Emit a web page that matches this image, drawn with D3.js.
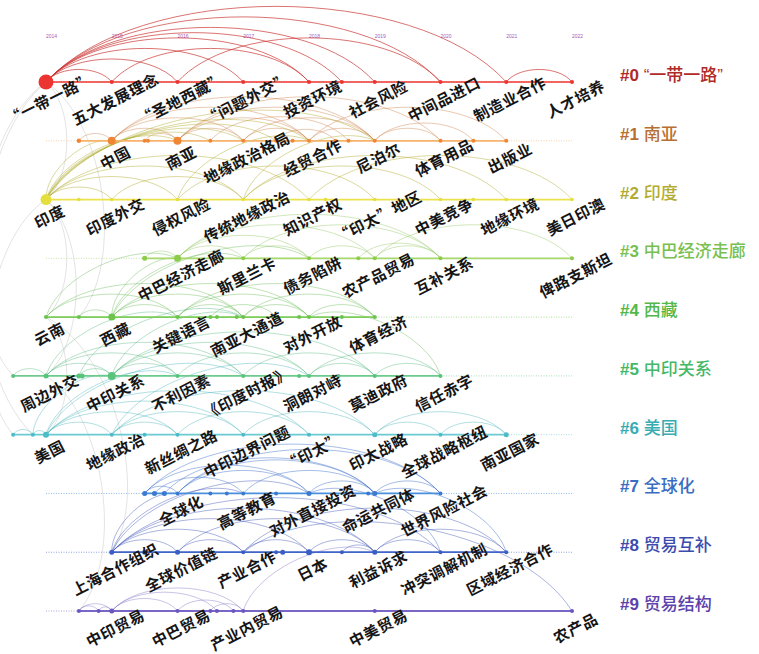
<!DOCTYPE html>
<html>
<head>
<meta charset="utf-8">
<script src="https://cdn.jsdelivr.net/npm/d3@7"></script>
<style>
  body { margin: 0; background: #fff; }
  svg { display: block; }
</style>
</head>
<body>
<svg id="chart" width="759" height="654"></svg>
<script>
// years on the timeline
const years = [2014, 2015, 2016, 2017, 2018, 2019, 2020, 2021, 2022];

// cluster labels
const clusterNames = ["“一带一路”", "南亚", "印度", "中巴经济走廊", "西藏", "中印关系", "美国", "全球化", "贸易互补", "贸易结构"];

// nodes per cluster: [year, radius]
const nodes0 = [[2014, 7.5], [2015, 2], [2016, 2], [2017, 2], [2018, 2], [2018.5, 2], [2019, 2], [2020, 2], [2021, 2], [2022, 2]];
const nodes1 = [[2014.5, 2.2], [2015, 4], [2015.5, 2], [2015.55, 2], [2016, 4], [2016.5, 2], [2017, 2], [2017.5, 2], [2017.75, 2], [2018, 2], [2018.4, 2], [2018.6, 2], [2019, 2], [2020, 2], [2020.5, 2], [2021, 2]];
const nodes2 = [[2014, 5.5], [2014.5, 1.8], [2015, 1.8], [2016, 1.8], [2017, 1.8], [2018, 1.8], [2018.25, 1.8], [2019, 1.8], [2020, 1.8], [2020.5, 1.8], [2021, 1.8], [2022, 1.8]];
const nodes3 = [[2015.5, 2.5], [2016, 3.5], [2017, 2], [2018, 2], [2018.75, 2], [2019, 2], [2020, 2], [2022, 2]];
const nodes4 = [[2014, 2], [2014.5, 2], [2015, 3.5], [2016, 2], [2016.5, 2], [2016.6, 2], [2016.9, 2], [2017, 2], [2017.5, 2], [2017.85, 2], [2018, 2], [2018.5, 2], [2019, 2]];
const nodes5 = [[2013.5, 2], [2014, 2.5], [2014.5, 2.5], [2014.55, 2.5], [2015, 4], [2016, 2], [2017, 2], [2017.85, 2], [2018, 2], [2018.45, 2], [2019, 2], [2020, 2]];
const nodes6 = [[2013.5, 2], [2013.8, 2], [2014, 3], [2015, 2], [2015.5, 2], [2016, 2], [2017, 2], [2018, 2], [2019, 2.5], [2020, 2], [2021, 2.5]];
const nodes7 = [[2015.5, 2.5], [2015.65, 2.5], [2015.8, 2.5], [2016, 2], [2016.5, 2], [2016.75, 2], [2017, 2], [2017.5, 2], [2018, 2.5], [2018.9, 2], [2019, 2.5], [2020, 2]];
const nodes8 = [[2015, 2.5], [2015.5, 2.5], [2016, 2.5], [2017, 2], [2017.5, 2], [2017.6, 2.5], [2018, 3], [2018.5, 2], [2019, 2.5], [2020, 2], [2021, 2]];
const nodes9 = [[2014.5, 2], [2014.8, 2], [2015, 2.5], [2016, 2], [2016.5, 2], [2016.6, 2], [2016.85, 2], [2017, 2], [2019, 2], [2022, 2]];
const clusterNodes = [nodes0, nodes1, nodes2, nodes3, nodes4, nodes5, nodes6, nodes7, nodes8, nodes9];

// keyword labels per cluster: [year, text]
const labels0 = [[2014, "“一带一路”"], [2015, "五大发展理念"], [2016, "“圣地西藏”"], [2017, "“问题外交”"], [2018, "投资环境"], [2019, "社会风险"], [2020, "中间品进口"], [2021, "制造业合作"], [2022, "人才培养"]];
const labels1 = [[2015, "中国"], [2016, "南亚"], [2017, "地缘政治格局"], [2018, "经贸合作"], [2019, "尼泊尔"], [2020, "体育用品"], [2021, "出版业"]];
const labels2 = [[2014, "印度"], [2015, "印度外交"], [2016, "侵权风险"], [2017, "传统地缘政治"], [2018, "知识产权"], [2019, "“印太”地区"], [2020, "中美竞争"], [2021, "地缘环境"], [2022, "美日印澳"]];
const labels3 = [[2016, "中巴经济走廊"], [2017, "斯里兰卡"], [2018, "债务陷阱"], [2019, "农产品贸易"], [2020, "互补关系"], [2022, "俾路支斯坦"]];
const labels4 = [[2014, "云南"], [2015, "西藏"], [2016, "关键语言"], [2017, "南亚大通道"], [2018, "对外开放"], [2019, "体育经济"]];
const labels5 = [[2014, "周边外交"], [2015, "中印关系"], [2016, "不利因素"], [2017, "《印度时报》"], [2018, "洞朗对峙"], [2019, "莫迪政府"], [2020, "信任赤字"]];
const labels6 = [[2014, "美国"], [2015, "地缘政治"], [2016, "新丝绸之路"], [2017, "中印边界问题"], [2018, "“印太”"], [2019, "印太战略"], [2020, "全球战略枢纽"], [2021, "南亚国家"]];
const labels7 = [[2016, "全球化"], [2017, "高等教育"], [2018, "对外直接投资"], [2019, "命运共同体"], [2020, "世界风险社会"]];
const labels8 = [[2015, "上海合作组织"], [2016, "全球价值链"], [2017, "产业合作"], [2018, "日本"], [2019, "利益诉求"], [2020, "冲突调解机制"], [2021, "区域经济合作"]];
const labels9 = [[2015, "中印贸易"], [2016, "中巴贸易"], [2017, "产业内贸易"], [2019, "中美贸易"], [2022, "农产品"]];
const clusterLabels = [labels0, labels1, labels2, labels3, labels4, labels5, labels6, labels7, labels8, labels9];

// co-occurrence links: [cluster, year, cluster, year]
const links = [
  [0,2014,0,2015],[0,2014,0,2016],[0,2014,0,2017],[0,2014,0,2018],[0,2014,0,2018.5],[0,2014,0,2019],[0,2014,0,2020],[0,2014,0,2021],[0,2015,0,2018],[0,2016,0,2020],[0,2021,0,2022],
  [1,2014.5,1,2015],[1,2015,1,2016],[1,2015,1,2017],[1,2015,1,2018],[1,2015.5,1,2016],[1,2016,1,2017],[1,2016,1,2018],[1,2016,1,2019],[1,2016,1,2020],[1,2017,1,2018],[1,2017,1,2019],[1,2018,1,2019],[1,2018,1,2021],[1,2019,1,2020],[1,2019,1,2020.5],[1,2015,1,2019],[1,2016.5,1,2018.6],[1,2017.5,1,2018.4],
  [2,2014,1,2015],[2,2014,1,2016],[2,2014,1,2016.5],[2,2014,1,2017],[2,2014,1,2017.5],[2,2014,1,2018],[2,2014,1,2019],[2,2016,1,2018],[2,2017,1,2019],
  [2,2014,2,2015],[2,2014,2,2016],[2,2014,2,2017],[2,2014,2,2018],[2,2015,2,2017],[2,2016,2,2019],[2,2017,2,2020],[2,2017,2,2021],[2,2018,2,2022],
  [3,2015.5,3,2016],[3,2016,3,2017],[3,2016,3,2018],[3,2016,3,2019],[3,2016,3,2020],[3,2017,3,2018],[3,2018,3,2019],[3,2019,3,2020],[3,2018.75,3,2020],[3,2017,3,2020],[3,2019,3,2022],
  [4,2014,3,2016],[4,2015,3,2016],[4,2015,3,2017],[4,2015,3,2018],
  [4,2014,4,2016],[4,2014,4,2017],[4,2014.5,4,2015],[4,2015,4,2016],[4,2015,4,2017],[4,2015,4,2018],[4,2016,4,2017],[4,2016,4,2018],[4,2016,4,2019],[4,2017,4,2018],[4,2017,4,2019],[4,2018,4,2019],[4,2016.5,4,2017.5],[4,2018,5,2020],
  [5,2013.5,5,2014],[5,2014,5,2015],[5,2014,5,2016],[5,2014,5,2017],[5,2014.5,5,2015],[5,2015,5,2016],[5,2015,5,2017],[5,2015,5,2018],[5,2015,5,2019],[5,2016,5,2018],[5,2017,5,2019],[5,2018,5,2019],[5,2018,5,2020],[5,2019,5,2020],
  [5,2014,4,2016],[5,2015,4,2017],[5,2014.5,4,2017],
  [6,2013.5,6,2013.8],[6,2013.8,6,2014],[6,2014,6,2015],[6,2014,6,2016],[6,2014,6,2017],[6,2014,6,2018],[6,2015,6,2016],[6,2015,6,2017],[6,2015,6,2019],[6,2016,6,2018],[6,2017,6,2019],[6,2019,6,2020],[6,2019,6,2021],[6,2020,6,2021],
  [6,2013.8,5,2015],[6,2014,5,2016],[6,2014,5,2017],[6,2015,5,2018],
  [7,2015.5,7,2016],[7,2015.5,7,2018],[7,2015.65,7,2017],[7,2015.8,7,2019],[7,2016,7,2018],[7,2016,7,2019],[7,2016,7,2020],[7,2017,7,2019],[7,2018,7,2019],[7,2019,7,2020],[7,2015.5,7,2020],
  [7,2018,8,2020],[7,2019,8,2021],
  [8,2015,8,2016],[8,2015,8,2017],[8,2015,8,2018],[8,2015,8,2019],[8,2015,8,2020],[8,2016,8,2017],[8,2016,8,2019],[8,2017,8,2018],[8,2018,8,2019],[8,2018.5,8,2019],[8,2019,8,2020],[8,2019,8,2021],[8,2017,8,2021],
  [8,2015,7,2016],[8,2015,7,2017],[8,2015,7,2018],[8,2017,9,2022],
  [9,2014.5,9,2014.8],[9,2014.8,9,2015],[9,2014.5,9,2015],[9,2015,9,2016],[9,2015,9,2016.6],[9,2015,9,2017],[9,2016,9,2016.85],[9,2016.5,9,2017],[9,2017,8,2019]
];

// faint grey links between clusters at the start of the timeline
const greyLinks = [
  [0,2014,2,2014],[2,2014,4,2014],[4,2014,6,2014],[0,2014,5,2013.5],[2,2014,6,2013.5],[0,2014,4,2014.5],[2,2014,5,2014],[0,2014,6,2013.8],[4,2014,8,2015],[5,2014,9,2014.5]
];

const lineColors  = ["#ee3b35","#f7b36c","#ece34c","#a8d86c","#7ccc5a","#6ccb8c","#6ccad3","#4a90dc","#4065c8","#7a66c4"];
const nodeColors  = ["#ec3530","#f08634","#e4de3e","#8ccc48","#6cc44c","#58c47a","#4cbcc8","#3a7ad0","#3a5ec4","#6a58c0"];
const linkColors  = ["#c8302c","#c87a3e","#b0aa2a","#8cc45a","#64b850","#4eb47c","#40b0b8","#3a6cc8","#4258b8","#7a6ac0"];
const titleColors = ["#b02a2a","#b87032","#b2ac30","#78c050","#52b848","#44b868","#38acb2","#3a6cc2","#3c4cae","#5c42aa"];
const linkOpacity = [0.75, 0.45, 0.5, 0.45, 0.45, 0.45, 0.45, 0.5, 0.5, 0.45];

const svg = d3.select("#chart");
const x = d3.scaleLinear().domain([2014, 2022]).range([46, 572]);
const y = d3.scaleLinear().domain([0, 9]).range([82, 611]);

const pos = (c, yr) => [x(yr), y(c)];

function linkPath(p, q) {
    let a = p, b = q;
    if (b[0] < a[0] || (b[0] === a[0] && b[1] < a[1])) { a = q; b = p; }
    const dx = b[0] - a[0], dy = b[1] - a[1];
    const L = Math.hypot(dx, dy);
    const h = (0.16 * L + 2) / 0.75;
    const nx = dy / L, ny = -dx / L;
    const c1 = [a[0] + 0.2 * dx + nx * h, a[1] + 0.2 * dy + ny * h];
    const c2 = [b[0] - 0.2 * dx + nx * h, b[1] - 0.2 * dy + ny * h];
    return `M${a[0]},${a[1]}C${c1[0]},${c1[1]} ${c2[0]},${c2[1]} ${b[0]},${b[1]}`;
}

// year ticks on top
svg.append("g")
    .selectAll("text")
    .data(years)
    .join("text")
    .attr("x", d => x(d))
    .attr("y", 38)
    .attr("font-family", "Liberation Sans, Arial, sans-serif")
    .attr("font-size", 5)
    .attr("fill", "#a45cb8")
    .text(d => d);

// dotted full-length row lines
svg.append("g")
    .selectAll("line")
    .data(d3.range(10))
    .join("line")
    .attr("x1", x(2014))
    .attr("x2", x(2022))
    .attr("y1", d => y(d))
    .attr("y2", d => y(d))
    .attr("stroke", d => lineColors[d])
    .attr("stroke-width", 1)
    .attr("stroke-dasharray", "1,1.5")
    .attr("opacity", 0.6);

// grey links
svg.append("g")
    .selectAll("path")
    .data(greyLinks)
    .join("path")
    .attr("d", d => linkPath(pos(d[0], d[1]), pos(d[2], d[3])))
    .attr("fill", "none")
    .attr("stroke", "#c4c4c4")
    .attr("stroke-width", 0.8)
    .attr("opacity", 0.6);

// coloured links
svg.append("g")
    .selectAll("path")
    .data(links)
    .join("path")
    .attr("d", d => linkPath(pos(d[0], d[1]), pos(d[2], d[3])))
    .attr("fill", "none")
    .attr("stroke", d => linkColors[d[0]])
    .attr("stroke-width", 0.9)
    .attr("opacity", d => linkOpacity[d[0]]);

// solid active span of each cluster
svg.append("g")
    .selectAll("line")
    .data(clusterNodes.map((ns, i) => ({i, lo: d3.min(ns, n => n[0]), hi: d3.max(ns, n => n[0])})))
    .join("line")
    .attr("x1", d => x(d.lo))
    .attr("x2", d => x(d.hi))
    .attr("y1", d => y(d.i))
    .attr("y2", d => y(d.i))
    .attr("stroke", d => lineColors[d.i])
    .attr("stroke-width", d => d.i === 0 ? 1.6 : 1.8);

// nodes
const nodeG = svg.append("g");
clusterNodes.forEach((ns, i) => {
    nodeG.selectAll(null)
        .data(ns)
        .join("circle")
        .attr("cx", d => x(d[0]))
        .attr("cy", y(i))
        .attr("r", d => d[1])
        .attr("fill", nodeColors[i]);
});

// keyword labels
const labelG = svg.append("g");
clusterLabels.forEach((ls, i) => {
    labelG.selectAll(null)
        .data(ls)
        .join("text")
        .attr("transform", d => `translate(${x(d[0]) + 3},${y(i) + 16}) rotate(-27)`)
        .attr("text-anchor", "middle")
        .attr("dominant-baseline", "central")
        .attr("font-family", "Noto Sans CJK SC, sans-serif")
        .attr("font-weight", 700)
        .attr("font-size", 15.2)
        .attr("letter-spacing", 0.6)
        .attr("fill", "#151515")
        .text(d => d[1]);
});

// cluster titles on the right
const titles = svg.append("g")
    .selectAll("text")
    .data(clusterNames)
    .join("text")
    .attr("x", 620)
    .attr("y", (d, i) => y(i) - 7)
    .attr("dominant-baseline", "central")
    .attr("font-size", 17)
    .attr("fill", (d, i) => titleColors[i]);
titles.append("tspan")
    .attr("font-family", "Liberation Sans, Arial, sans-serif")
    .attr("font-weight", 700)
    .text((d, i) => "#" + i + " ");
titles.append("tspan")
    .attr("font-family", "Liberation Sans, Noto Sans CJK SC, sans-serif")
    .attr("font-weight", 500)
    .text(d => d);
</script>
</body>
</html>
